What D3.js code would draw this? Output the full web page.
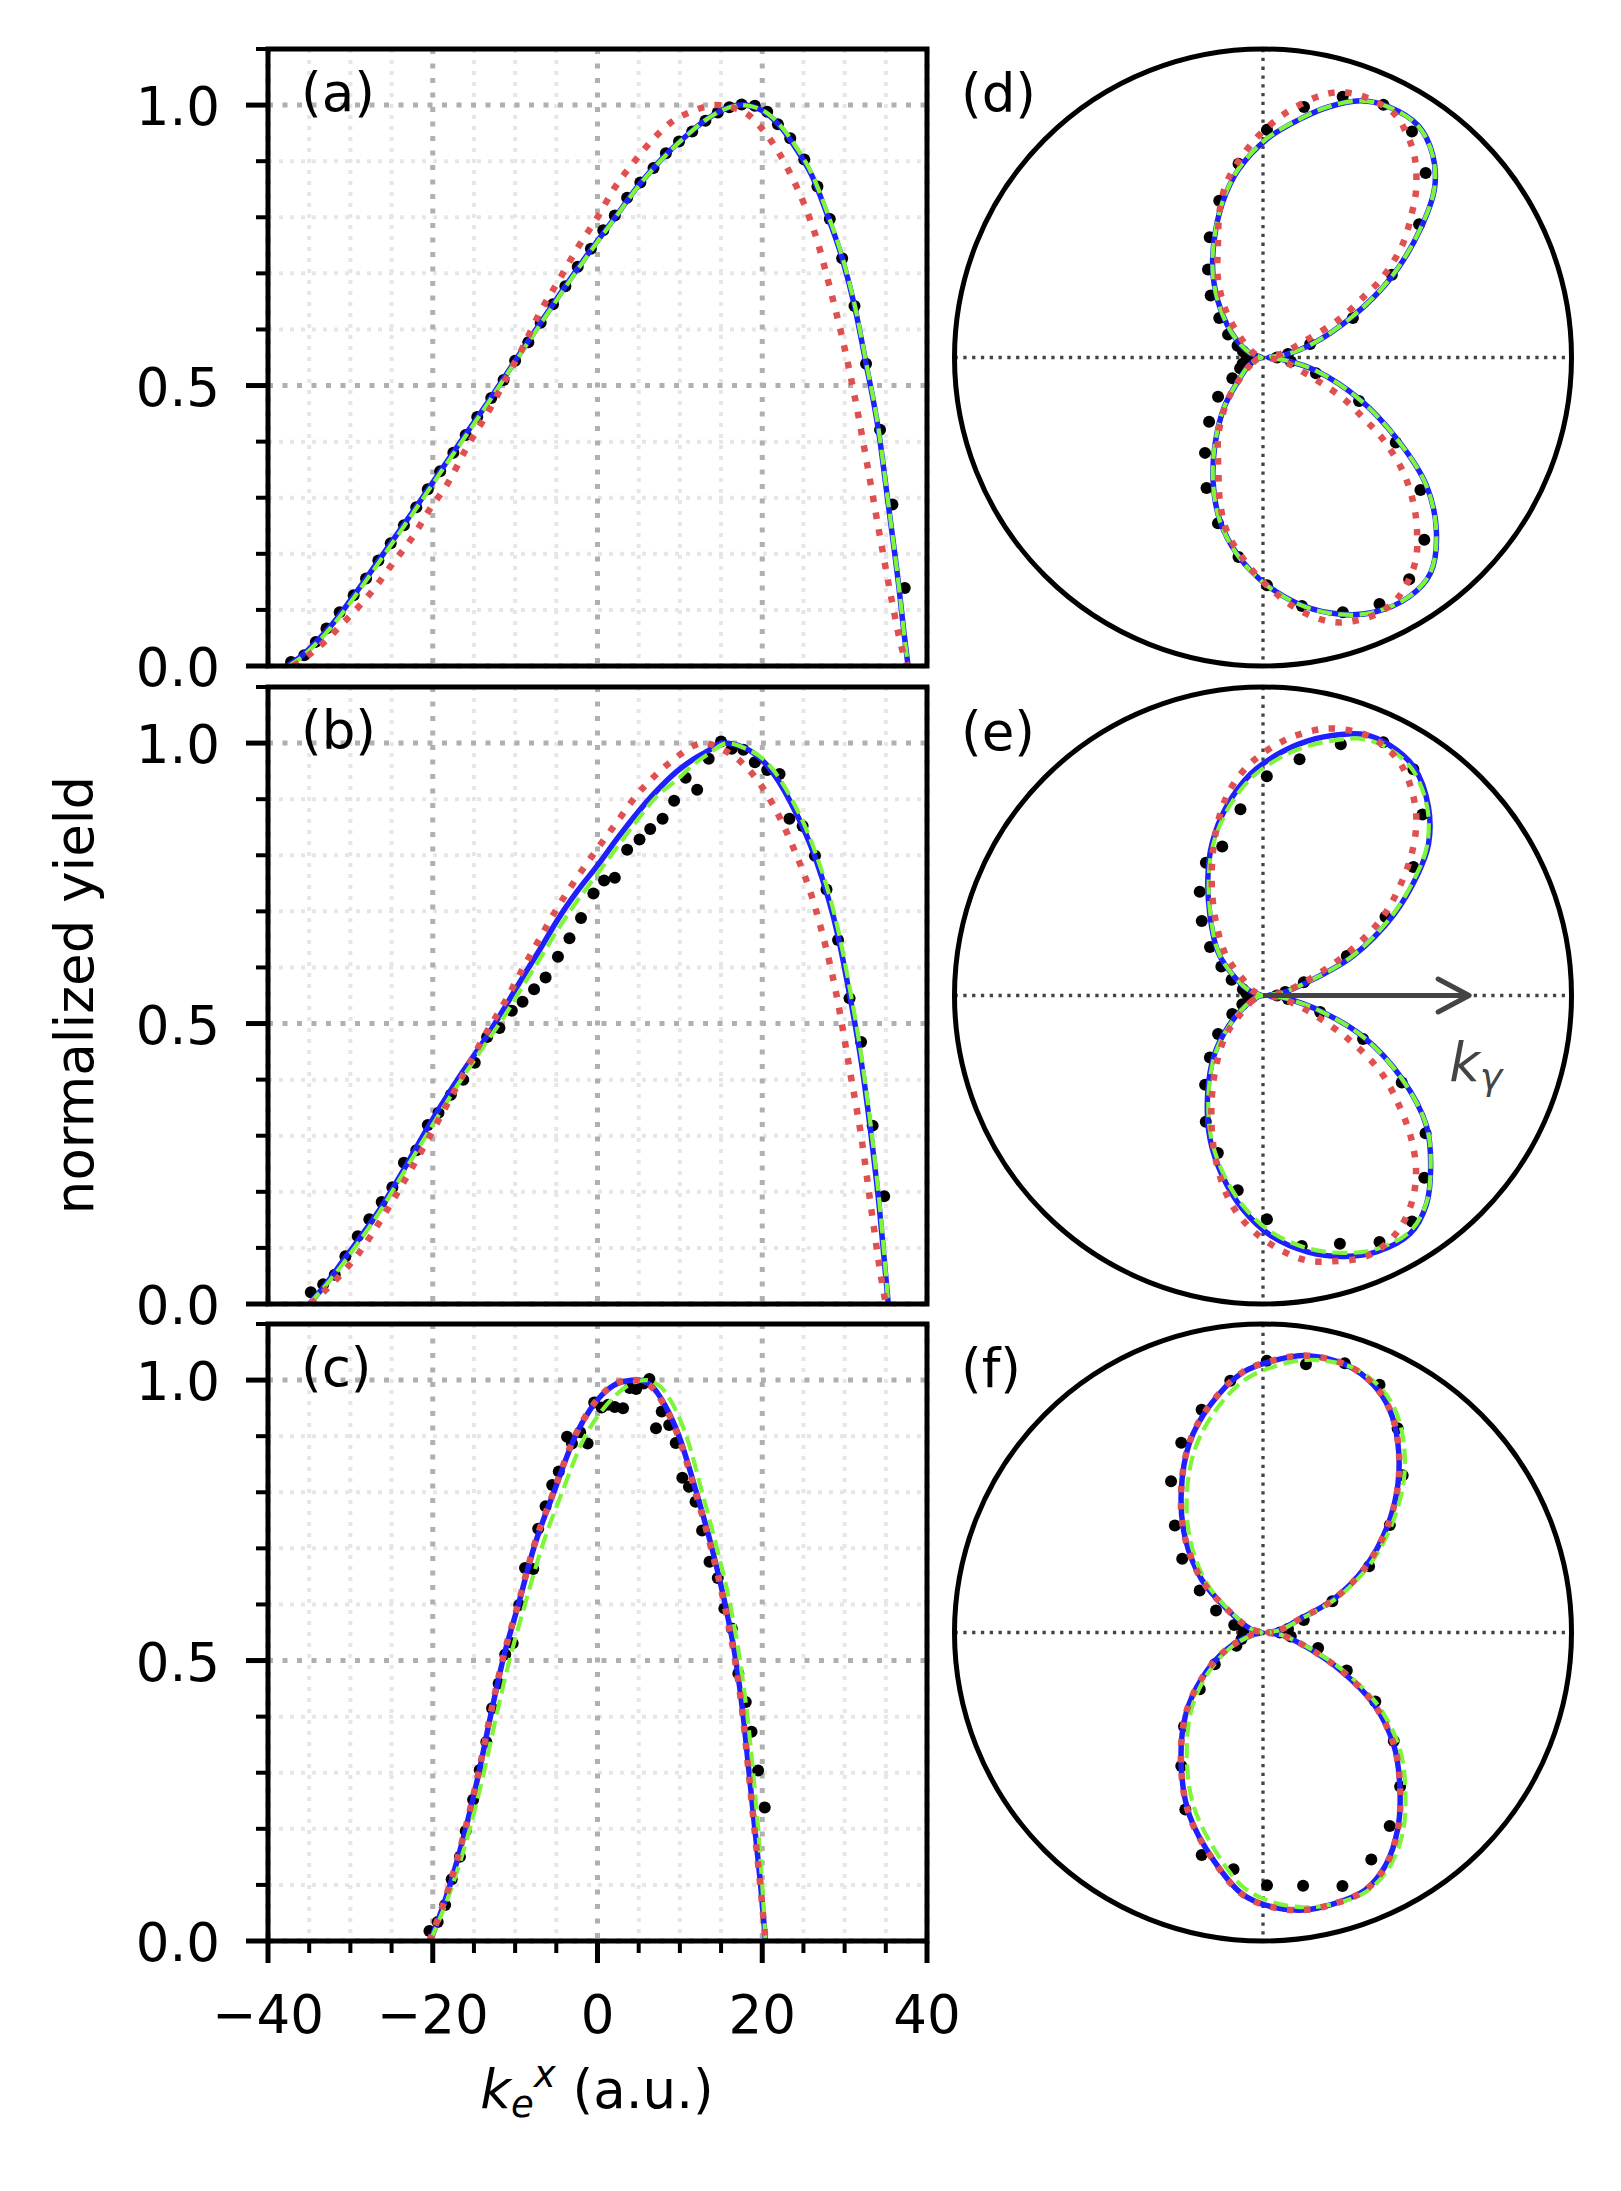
<!DOCTYPE html>
<html><head><meta charset="utf-8">
<script src="https://cdn.jsdelivr.net/npm/d3@7"></script>
<style>body{margin:0;background:#fff}svg{display:block}</style>
</head><body>
<script>
// ---------------- DATA ----------------
const xTicks = [-40,-20,0,20,40];
const xTickLabels = ["\u221240","\u221220","0","20","40"];
const yTicks = [0,0.5,1.0];
const yTickLabels = ["0.0","0.5","1.0"];
const panelLabels = ["(a)","(b)","(c)","(d)","(e)","(f)"];

// panel (a)
const aDotsX = [-37.2,-35.6,-34.2,-32.9,-31.3,-29.6,-28.1,-26.6,-25.1,-23.5,-22.0,-20.6,-19.1,-17.5,-16.0,-14.6,-12.9,-11.4,-10.0,-8.4,-6.9,-5.4,-3.9,-2.4,-0.8,0.7,2.1,3.6,5.2,6.8,8.3,9.9,11.5,13.1,14.6,16.0,17.5,19.1,20.6,21.9,23.4,25.1,26.7,28.2,29.7,31.2,32.6,34.3,35.8,37.3];
const aDotsY = [0.007,0.019,0.043,0.067,0.096,0.126,0.156,0.188,0.219,0.251,0.283,0.315,0.347,0.380,0.412,0.444,0.478,0.510,0.544,0.577,0.612,0.645,0.677,0.712,0.744,0.777,0.803,0.835,0.862,0.888,0.914,0.935,0.953,0.972,0.987,0.996,1.001,0.999,0.988,0.966,0.941,0.903,0.855,0.797,0.727,0.642,0.539,0.421,0.288,0.139];
const aBlue = [[-37.7,0],[-36,0.017],[-34,0.045],[-32,0.078],[-30,0.117],[-28,0.158],[-25,0.221],[-22,0.284],[-19,0.349],[-16,0.413],[-13,0.477],[-10,0.544],[-7,0.61],[-4,0.675],[-1,0.738],[2,0.797],[5,0.857],[8,0.907],[11,0.948],[13,0.972],[15,0.99],[17.5,1.0],[20,0.99],[22,0.965],[24,0.925],[26,0.875],[28,0.80],[29.7,0.727],[31.2,0.642],[32.6,0.539],[34.1,0.421],[35.3,0.288],[36.6,0.139],[37.2,0.06],[37.7,0]];
const aGreen = [[-37.5,0],[-36,0.015],[-34,0.042],[-32,0.075],[-30,0.113],[-28,0.154],[-25,0.217],[-22,0.281],[-19,0.346],[-16,0.41],[-13,0.475],[-10,0.542],[-7,0.608],[-4,0.673],[-1,0.736],[2,0.796],[5,0.856],[8,0.906],[11,0.948],[13,0.972],[15,0.99],[17.5,1.0],[20,0.991],[22,0.967],[24,0.928],[26,0.878],[28,0.804],[29.7,0.73],[31.2,0.645],[32.6,0.542],[34.1,0.424],[35.3,0.29],[36.6,0.14],[37.2,0.06],[37.7,0]];
const aRed = [[-36.9,0],[-35,0.02],[-33,0.045],[-31,0.075],[-29.6,0.096],[-27,0.14],[-25.1,0.178],[-22,0.24],[-20.6,0.274],[-18,0.33],[-16,0.386],[-13,0.46],[-11.4,0.504],[-9,0.57],[-7,0.63],[-4.6,0.69],[-2.4,0.746],[0,0.8],[2.1,0.853],[4.5,0.9],[6.8,0.94],[9,0.97],[11.5,0.989],[14.4,1.0],[17.5,0.99],[20.6,0.946],[23.5,0.875],[25.1,0.823],[26.7,0.757],[28.2,0.675],[29.7,0.586],[31.2,0.482],[32.6,0.371],[34.3,0.23],[35.8,0.111],[36.8,0.04],[37.6,0]];

// panel (b)
const bDotsX = [-34.8,-33.3,-31.9,-30.6,-29.1,-27.7,-26.2,-24.9,-23.5,-22.0,-20.6,-19.3,-17.8,-16.3,-14.9,-13.4,-11.9,-10.4,-9.1,-7.7,-6.3,-4.8,-3.4,-2.0,-0.5,0.8,2.1,3.6,5.1,6.4,7.9,9.3,10.7,12.1,13.5,15.0,16.3,17.7,19.1,20.6,22.1,23.3,24.9,26.4,27.8,29.2,30.6,32.0,33.4,34.8];
const bDotsY = [0.021,0.035,0.052,0.085,0.121,0.151,0.182,0.208,0.252,0.274,0.319,0.341,0.373,0.400,0.430,0.476,0.492,0.523,0.539,0.561,0.582,0.619,0.652,0.688,0.732,0.755,0.760,0.810,0.828,0.847,0.865,0.897,0.938,0.917,0.972,1.003,0.990,0.988,0.966,0.952,0.945,0.865,0.852,0.799,0.739,0.649,0.545,0.467,0.318,0.192];
const bBlue = [[-35,0],[-33,0.035],[-31,0.075],[-29,0.115],[-26.2,0.174],[-23.5,0.24],[-20.6,0.315],[-17,0.4],[-13.4,0.478],[-11,0.535],[-9.1,0.582],[-7,0.632],[-4.8,0.686],[-2.5,0.735],[0,0.782],[2.4,0.83],[4.8,0.875],[7.2,0.915],[9.6,0.949],[11.5,0.97],[13.4,0.986],[15.2,1.0],[17.6,0.993],[20.6,0.96],[23.5,0.893],[26.4,0.797],[29.2,0.656],[30.6,0.552],[32.0,0.434],[33.4,0.278],[34.2,0.174],[34.8,0.08],[35.3,0]];
const bGreen = [[-35,0],[-33,0.033],[-31,0.07],[-29,0.11],[-26.2,0.17],[-23.5,0.235],[-20.6,0.305],[-17,0.39],[-13.4,0.468],[-11,0.52],[-9.1,0.566],[-7,0.615],[-4.8,0.668],[-2.5,0.718],[0,0.767],[2.4,0.815],[4.8,0.862],[7.2,0.905],[9.6,0.934],[11.5,0.96],[13.4,0.98],[15.8,1.0],[18,0.99],[20.6,0.965],[23.5,0.902],[26.4,0.807],[29.2,0.668],[30.6,0.565],[32.0,0.445],[33.4,0.29],[34.2,0.185],[34.8,0.09],[35.3,0]];
const bRed = [[-34.8,0],[-33,0.025],[-31,0.055],[-29,0.09],[-26.2,0.152],[-23.5,0.218],[-20.6,0.293],[-17,0.39],[-13.4,0.486],[-11,0.545],[-9.1,0.597],[-7,0.652],[-4.8,0.708],[-2.5,0.76],[0,0.812],[2.4,0.86],[4.8,0.908],[7.2,0.945],[9.6,0.975],[11.8,0.996],[12.8,1.0],[15,0.99],[17.6,0.964],[20.6,0.908],[23.5,0.823],[26.4,0.708],[29.2,0.537],[30.6,0.419],[32.0,0.30],[33.4,0.152],[34.4,0.05],[35.0,0]];

// panel (c)
const cDotsX = [-20.4,-19.4,-18.5,-17.7,-16.7,-16.0,-15.1,-14.3,-13.5,-12.8,-12.0,-11.2,-10.3,-9.5,-8.8,-7.8,-7.2,-6.3,-5.5,-4.7,-3.7,-3.1,-2.1,-1.2,-0.4,0.5,1.3,2.1,3.1,3.9,4.7,5.6,6.3,7.1,7.8,8.7,9.5,10.3,11.1,11.9,12.7,13.6,14.6,15.4,16.3,17.1,18.0,18.7,19.5,20.3];
const cDotsY = [0.018,0.034,0.064,0.110,0.150,0.196,0.252,0.305,0.355,0.415,0.459,0.511,0.531,0.599,0.665,0.663,0.735,0.775,0.813,0.837,0.899,0.887,0.907,0.887,0.960,0.951,0.956,0.952,0.950,0.986,0.984,0.994,1.002,0.914,0.944,0.920,0.888,0.826,0.810,0.783,0.732,0.676,0.647,0.593,0.557,0.477,0.426,0.373,0.304,0.238];
const cBlue = [[-20.3,0],[-17.9,0.1],[-16,0.2],[-14.4,0.3],[-13,0.4],[-11.5,0.5],[-9.6,0.6],[-7.75,0.7],[-5.3,0.8],[-2.7,0.9],[-1,0.945],[1,0.98],[3,0.997],[4.8,1.0],[6.5,0.99],[8.2,0.955],[9.9,0.9],[12,0.8],[13.9,0.7],[15.5,0.6],[16.8,0.5],[17.7,0.4],[18.4,0.3],[19.1,0.2],[19.8,0.1],[20.4,0]];
const cGreen = [[-20.3,0],[-17.6,0.1],[-15.5,0.2],[-13.8,0.3],[-12.3,0.4],[-10.7,0.5],[-8.8,0.6],[-6.8,0.7],[-4.3,0.8],[-1.5,0.9],[0,0.935],[2,0.97],[4,0.993],[5.8,1.0],[7.5,0.99],[9.2,0.955],[10.8,0.9],[12.7,0.8],[14.5,0.7],[16.1,0.6],[17.3,0.5],[18.2,0.4],[18.9,0.3],[19.5,0.2],[20.0,0.1],[20.4,0]];
const cRed = [[-20.4,0],[-17.95,0.1],[-16.05,0.2],[-14.45,0.3],[-13.05,0.4],[-11.55,0.5],[-9.65,0.6],[-7.8,0.7],[-5.35,0.8],[-2.75,0.9],[-1,0.946],[1,0.981],[3,0.998],[4.7,1.0],[6.4,0.99],[8.1,0.955],[9.8,0.9],[11.9,0.8],[13.8,0.7],[15.4,0.6],[16.7,0.5],[17.65,0.4],[18.35,0.3],[19.05,0.2],[19.75,0.1],[20.4,0]];

// polar panels: [angle deg (ccw from +x), r]
const dDots = [[0,0.05],[8,0.09],[16.1,0.175],[23.7,0.35],[32.7,0.546],[40.5,0.732],[48.6,0.877],[56.6,0.965],[64.5,0.998],[73,0.972],[80.7,0.905],[89,0.812],[97.2,0.696],[105.6,0.58],[113.9,0.469],[122,0.37],[130.2,0.289],[138,0.21],[146.8,0.149],[155,0.1],[163,0.075],[172,0.06],[180,0.05],[-8,0.10],[-16.5,0.197],[-24.4,0.376],[-32.6,0.562],[-40.1,0.734],[-48.5,0.868],[-56.6,0.947],[-64.7,0.972],[-72.6,0.952],[-81.1,0.897],[-89,0.812],[-97,0.717],[-105.2,0.612],[-113.4,0.507],[-121.3,0.398],[-130,0.299],[-138.8,0.213],[-145.9,0.132],[-155,0.09],[-163,0.076],[-172,0.05]];
const dBlue = [[0,0.02],[7,0.08],[14.7,0.173],[24.7,0.353],[32.1,0.542],[39.2,0.724],[44.7,0.861],[50.1,0.943],[56.2,0.995],[63.4,1.0],[69.1,0.98],[75.4,0.923],[81.2,0.86],[88.9,0.78],[97.5,0.675],[104.9,0.567],[112.9,0.449],[121.1,0.345],[130.8,0.234],[144.2,0.126],[162,0.046],[180,0.005],[-165,0.02],[-150,0.06],[-136.9,0.119],[-128,0.225],[-118.9,0.354],[-111.9,0.477],[-104.7,0.603],[-97,0.714],[-89,0.812],[-80.7,0.898],[-73.2,0.956],[-66.7,0.99],[-58.7,1.0],[-52.1,0.973],[-45.1,0.876],[-38.1,0.741],[-31.5,0.564],[-23.3,0.373],[-14,0.195],[-7,0.08]];
const dGreen = [[0,0.02],[7,0.08],[14.7,0.172],[24.7,0.352],[32.1,0.54],[39.2,0.722],[44.7,0.86],[50.1,0.942],[56.2,0.994],[63.4,0.999],[69.1,0.98],[75.4,0.924],[81.2,0.861],[88.9,0.782],[97.5,0.677],[104.9,0.568],[112.9,0.45],[121.1,0.346],[130.8,0.235],[144.2,0.126],[162,0.046],[180,0.005],[-165,0.02],[-150,0.06],[-136.9,0.12],[-128,0.226],[-118.9,0.355],[-111.9,0.478],[-104.7,0.604],[-97,0.715],[-89,0.813],[-80.7,0.899],[-73.2,0.957],[-66.7,0.99],[-58.7,0.999],[-52.1,0.972],[-45.1,0.875],[-38.1,0.74],[-31.5,0.563],[-23.3,0.372],[-14,0.194],[-7,0.08]];
const dRed = [[0,0.02],[10,0.06],[22.3,0.174],[26.9,0.311],[31.3,0.426],[33.6,0.507],[38.8,0.636],[44.2,0.741],[47.9,0.815],[53.3,0.902],[58.5,0.961],[61.8,0.988],[65.8,0.996],[70.3,0.996],[74.5,0.981],[77.7,0.955],[81.7,0.911],[86.1,0.858],[92.7,0.769],[101.1,0.647],[106.1,0.553],[112,0.429],[119.8,0.323],[128.8,0.209],[136.9,0.119],[150,0.05],[165,0.02],[180,0.005],[-165,0.02],[-150,0.05],[-137,0.115],[-129,0.205],[-120,0.318],[-112,0.425],[-106,0.55],[-101,0.645],[-92.5,0.765],[-86,0.855],[-82,0.908],[-78,0.952],[-74.5,0.98],[-70.5,0.995],[-66,1.0],[-62,0.99],[-58.5,0.965],[-53,0.905],[-48,0.82],[-44,0.745],[-39,0.64],[-34,0.51],[-31.5,0.43],[-27,0.32],[-21,0.17],[-10,0.07]];

const eDots = [[0,0.05],[9,0.08],[18,0.153],[25.2,0.33],[32.7,0.519],[40.5,0.705],[48.6,0.86],[56.4,0.969],[64.6,1.0],[72.8,0.938],[81.2,0.852],[89,0.782],[96.9,0.669],[105.3,0.551],[113.3,0.515],[121.4,0.433],[129.4,0.344],[137.6,0.256],[145.1,0.181],[153.5,0.125],[163,0.075],[172,0.06],[180,0.05],[-8,0.09],[-16.2,0.212],[-23.5,0.389],[-32.1,0.584],[-40.3,0.76],[-48.5,0.868],[-56.6,0.965],[-64.7,0.972],[-72.8,0.927],[-81.2,0.904],[-89,0.798],[-97.4,0.7],[-106,0.584],[-114.4,0.494],[-123,0.379],[-130.6,0.291],[-139.4,0.211],[-148.8,0.128],[-157,0.08],[-168,0.05]];
const eBlue = [[0,0.02],[8,0.07],[16.8,0.168],[23.7,0.35],[31.7,0.548],[38.2,0.704],[42.4,0.799],[48.7,0.894],[56.4,0.975],[63.2,1.0],[68.6,0.999],[73.4,0.971],[80,0.922],[86.1,0.866],[93.2,0.791],[101,0.685],[108.7,0.569],[115,0.465],[123.3,0.345],[136,0.223],[147,0.121],[162,0.046],[180,0.005],[-165,0.02],[-150,0.07],[-138.2,0.166],[-129.2,0.276],[-119.6,0.399],[-110.4,0.543],[-102.7,0.659],[-95.5,0.764],[-88.1,0.857],[-80,0.929],[-72.6,0.975],[-66,1.0],[-58.3,0.998],[-52,0.946],[-45.7,0.856],[-38.6,0.746],[-30.8,0.576],[-22.4,0.387],[-15.1,0.211],[-7,0.08]];
const eGreen = [[0,0.02],[8,0.07],[16.8,0.166],[23.7,0.345],[31.7,0.54],[38.2,0.696],[42.4,0.792],[48.7,0.888],[56.4,0.965],[63.2,0.988],[68.6,0.982],[73.4,0.952],[80,0.902],[86.1,0.848],[93.2,0.775],[101,0.672],[108.7,0.56],[115,0.458],[123.3,0.34],[136,0.22],[147,0.12],[162,0.046],[180,0.005],[-165,0.02],[-150,0.068],[-138.2,0.162],[-129.2,0.27],[-119.6,0.392],[-110.4,0.534],[-102.7,0.648],[-95.5,0.752],[-88.1,0.843],[-80,0.915],[-72.6,0.962],[-66,0.99],[-58.3,0.992],[-52,0.944],[-45.7,0.856],[-38.6,0.746],[-30.8,0.574],[-22.4,0.385],[-15.1,0.21],[-7,0.08]];
const eRed = [[0,0.02],[9,0.07],[18.9,0.17],[26.9,0.343],[32.9,0.503],[38.7,0.626],[43.8,0.736],[48.9,0.832],[54,0.903],[58.9,0.957],[63.7,0.988],[68.6,0.999],[75.4,0.984],[80.3,0.954],[85.4,0.911],[92,0.842],[97.6,0.767],[102.2,0.687],[108,0.567],[115,0.432],[122.9,0.308],[132.9,0.192],[140.7,0.094],[155,0.04],[170,0.01],[-170,0.01],[-155,0.04],[-141,0.1],[-133,0.195],[-123,0.31],[-115,0.435],[-108,0.57],[-102,0.69],[-97.5,0.77],[-92,0.845],[-85.5,0.915],[-80.5,0.958],[-75.3,0.98],[-69,1.0],[-64,0.99],[-59,0.958],[-54,0.905],[-49,0.832],[-44,0.735],[-39,0.625],[-33,0.5],[-27,0.34],[-19,0.17],[-9,0.07]];

const fDots = [[0,0.06],[8,0.09],[16.9,0.152],[24.2,0.271],[32,0.446],[40.3,0.593],[48.4,0.75],[56.6,0.872],[64.8,0.976],[73.1,1.003],[80.9,0.969],[89.2,0.969],[97.4,0.905],[105.4,0.824],[113.3,0.737],[121.3,0.631],[129.5,0.494],[137.6,0.39],[146.4,0.271],[154.9,0.185],[165.5,0.106],[174,0.07],[-174,0.07],[-163,0.08],[-153.4,0.106],[-146.6,0.206],[-138.1,0.303],[-130,0.438],[-121.5,0.558],[-113.7,0.689],[-105.4,0.823],[-97.1,0.851],[-89.1,0.901],[-81,0.914],[-72.6,0.947],[-64.5,0.897],[-56.8,0.825],[-48.3,0.735],[-39.7,0.606],[-31.6,0.47],[-24.4,0.328],[-15.6,0.204],[-8,0.1]];
const fBlue = [[0,0.02],[8,0.06],[20.3,0.14],[25,0.273],[32.6,0.433],[40.6,0.585],[47.7,0.715],[54.6,0.83],[60.4,0.914],[66,0.967],[72.1,0.998],[80.8,1.0],[87.4,0.972],[94.5,0.93],[103.2,0.831],[111.2,0.725],[120.3,0.578],[129.5,0.436],[139.2,0.289],[146.8,0.157],[164.6,0.045],[180,0.005],[-168,0.04],[-154.8,0.145],[-143,0.274],[-132.9,0.407],[-121.5,0.558],[-111.9,0.703],[-102.1,0.833],[-94.5,0.936],[-88.3,0.978],[-81.7,1.0],[-75.8,1.0],[-68.4,0.988],[-62.2,0.938],[-55.4,0.847],[-48.4,0.735],[-40.7,0.615],[-32.8,0.469],[-26,0.308],[-18.9,0.17],[-8,0.07]];
const fGreen = [[0,0.02],[8,0.06],[20,0.15],[25,0.29],[32.6,0.455],[40.6,0.612],[47.7,0.748],[54.6,0.86],[60.4,0.935],[66,0.978],[72.1,0.998],[80.8,0.985],[87.4,0.95],[94.5,0.9],[103.2,0.795],[111.2,0.685],[120.3,0.54],[129.5,0.4],[139.2,0.26],[146.8,0.14],[164.6,0.04],[180,0.005],[-168,0.035],[-154.8,0.13],[-143,0.25],[-132.9,0.375],[-121.5,0.52],[-111.9,0.665],[-102.1,0.8],[-94.5,0.91],[-88.3,0.96],[-81.7,0.99],[-75.8,1.0],[-68.4,0.995],[-62.2,0.955],[-55.4,0.875],[-48.4,0.765],[-40.7,0.645],[-32.8,0.495],[-26,0.33],[-18.9,0.18],[-8,0.07]];
const fRed = [[0,0.02],[8,0.06],[20.3,0.141],[25,0.274],[32.6,0.434],[40.6,0.586],[47.7,0.716],[54.6,0.831],[60.4,0.915],[66,0.968],[72.1,0.998],[80.8,1.0],[87.4,0.973],[94.5,0.931],[103.2,0.832],[111.2,0.726],[120.3,0.579],[129.5,0.437],[139.2,0.29],[146.8,0.158],[164.6,0.045],[180,0.005],[-168,0.04],[-154.8,0.146],[-143,0.275],[-132.9,0.408],[-121.5,0.559],[-111.9,0.704],[-102.1,0.834],[-94.5,0.937],[-88.3,0.979],[-81.7,1.0],[-75.8,1.0],[-68.4,0.989],[-62.2,0.939],[-55.4,0.848],[-48.4,0.736],[-40.7,0.616],[-32.8,0.47],[-26,0.309],[-18.9,0.171],[-8,0.07]];
const arrowLen = 0.735;

// ---------------- STYLE / LAYOUT ----------------
const FONT = '"DejaVu Sans", sans-serif';
const FS = 53;
const C_BLUE = '#2020ff', C_GREEN = '#7ff53a', C_RED = '#e05050';
const W = 1621, H = 2191;
const X0 = 268, X1 = 927, PH = 617;
const tops = [49, 687, 1324];
const PCX = 1263, PR = 308.5;

const svg = d3.select('body').append('svg').attr('width', W).attr('height', H);
svg.append('rect').attr('width', W).attr('height', H).attr('fill', '#fff');
const defs = svg.append('defs');

const x = d3.scaleLinear().domain([-40, 40]).range([X0, X1]);
const xMinor = d3.range(-40, 40.01, 5).filter(v => v % 20 !== 0);
const yMinor = d3.range(1, 12).map(v => v / 10).filter(v => Math.abs(v - 0.5) > 1e-6 && Math.abs(v - 1) > 1e-6);

function styleLine(sel, kind) {
  if (kind === 'blue') sel.attr('stroke', C_BLUE).attr('stroke-width', 5.5);
  if (kind === 'green') sel.attr('stroke', C_GREEN).attr('stroke-width', 4.2).attr('stroke-dasharray', '15 6.5');
  if (kind === 'red') sel.attr('stroke', C_RED).attr('stroke-width', 6.5).attr('stroke-dasharray', '6.5 10.5');
  return sel.attr('fill', 'none');
}

const linPanels = [
  {dx: aDotsX, dy: aDotsY, blue: aBlue, green: aGreen, red: aRed},
  {dx: bDotsX, dy: bDotsY, blue: bBlue, green: bGreen, red: bRed},
  {dx: cDotsX, dy: cDotsY, blue: cBlue, green: cGreen, red: cRed}
];

linPanels.forEach((p, i) => {
  const top = tops[i], bot = top + PH;
  const y = d3.scaleLinear().domain([0, 1.1]).range([bot, top]);
  const g = svg.append('g');
  const cid = 'clipL' + i;
  defs.append('clipPath').attr('id', cid).append('rect')
    .attr('x', X0).attr('y', top).attr('width', X1 - X0).attr('height', PH);

  const grid = g.append('g');
  xMinor.forEach(v => grid.append('line').attr('x1', x(v)).attr('x2', x(v)).attr('y1', top).attr('y2', bot)
    .attr('stroke', '#e6e6e6').attr('stroke-width', 4).attr('stroke-dasharray', '4 7'));
  yMinor.forEach(v => grid.append('line').attr('x1', X0).attr('x2', X1).attr('y1', y(v)).attr('y2', y(v))
    .attr('stroke', '#e6e6e6').attr('stroke-width', 4).attr('stroke-dasharray', '4 7'));
  xTicks.forEach(v => grid.append('line').attr('x1', x(v)).attr('x2', x(v)).attr('y1', top).attr('y2', bot)
    .attr('stroke', '#b0b0b0').attr('stroke-width', 5).attr('stroke-dasharray', '5 9.5'));
  yTicks.forEach(v => grid.append('line').attr('x1', X0).attr('x2', X1).attr('y1', y(v)).attr('y2', y(v))
    .attr('stroke', '#b0b0b0').attr('stroke-width', 5).attr('stroke-dasharray', '5 9.5'));

  const data = g.append('g').attr('clip-path', `url(#${cid})`);
  data.selectAll('circle').data(d3.zip(p.dx, p.dy)).join('circle')
    .attr('cx', d => x(d[0])).attr('cy', d => y(d[1])).attr('r', 6).attr('fill', '#000');
  const line = d3.line().x(d => x(d[0])).y(d => y(d[1])).curve(d3.curveMonotoneX);
  styleLine(data.append('path').attr('d', line(p.blue)), 'blue');
  styleLine(data.append('path').attr('d', line(p.green)), 'green');
  styleLine(data.append('path').attr('d', line(p.red)), 'red');

  yMinor.forEach(v => g.append('line').attr('x1', X0 - 12).attr('x2', X0).attr('y1', y(v)).attr('y2', y(v))
    .attr('stroke', '#000').attr('stroke-width', 4));
  yTicks.forEach((v, k) => {
    g.append('line').attr('x1', X0 - 22).attr('x2', X0).attr('y1', y(v)).attr('y2', y(v))
      .attr('stroke', '#000').attr('stroke-width', 5);
    g.append('text').attr('x', 220).attr('y', y(v) + 20).attr('text-anchor', 'end')
      .attr('font-family', FONT).attr('font-size', FS).text(yTickLabels[k]);
  });
  if (i === 2) {
    xMinor.forEach(v => g.append('line').attr('x1', x(v)).attr('x2', x(v)).attr('y1', bot).attr('y2', bot + 12)
      .attr('stroke', '#000').attr('stroke-width', 4));
    xTicks.forEach((v, k) => {
      g.append('line').attr('x1', x(v)).attr('x2', x(v)).attr('y1', bot).attr('y2', bot + 22)
        .attr('stroke', '#000').attr('stroke-width', 5);
      g.append('text').attr('x', x(v)).attr('y', 2033).attr('text-anchor', 'middle')
        .attr('font-family', FONT).attr('font-size', FS).text(xTickLabels[k]);
    });
  }
  g.append('rect').attr('x', X0).attr('y', top).attr('width', X1 - X0).attr('height', PH)
    .attr('fill', 'none').attr('stroke', '#000').attr('stroke-width', 5);
  g.append('text').attr('x', 301).attr('y', top + 62).attr('font-family', FONT).attr('font-size', FS)
    .text(panelLabels[i]);
});

svg.append('text').attr('transform', 'translate(93,995) rotate(-90)').attr('text-anchor', 'middle')
  .attr('font-family', FONT).attr('font-size', FS).text('normalized yield');
const xl = svg.append('text').attr('x', 597).attr('y', 2108).attr('text-anchor', 'middle')
  .attr('font-family', FONT).attr('font-size', FS);
xl.append('tspan').attr('font-style', 'italic').text('k');
xl.append('tspan').attr('font-style', 'italic').attr('font-size', 37).attr('dy', 9).text('e');
xl.append('tspan').attr('font-style', 'italic').attr('font-size', 37).attr('dy', -30).text('x');
xl.append('tspan').attr('dy', 21).text('\u00a0(a.u.)');

const polPanels = [
  {dots: dDots, blue: dBlue, green: dGreen, red: dRed},
  {dots: eDots, blue: eBlue, green: eGreen, red: eRed},
  {dots: fDots, blue: fBlue, green: fGreen, red: fRed}
];
polPanels.forEach((p, i) => {
  const top = tops[i];
  const cy = top + PH / 2;
  const r = d3.scaleLinear().domain([0, 1.1]).range([0, PR]);
  const xy = d => [PCX + r(d[1]) * Math.cos(d[0] * Math.PI / 180), cy - r(d[1]) * Math.sin(d[0] * Math.PI / 180)];
  const g = svg.append('g');
  const cid = 'clipP' + i;
  defs.append('clipPath').attr('id', cid).append('circle').attr('cx', PCX).attr('cy', cy).attr('r', PR);
  g.append('line').attr('x1', PCX - PR).attr('x2', PCX + PR).attr('y1', cy).attr('y2', cy)
    .attr('stroke', '#444').attr('stroke-width', 3.3).attr('stroke-dasharray', '3.3 5.5');
  g.append('line').attr('x1', PCX).attr('x2', PCX).attr('y1', cy - PR).attr('y2', cy + PR)
    .attr('stroke', '#444').attr('stroke-width', 3.3).attr('stroke-dasharray', '3.3 5.5');
  const data = g.append('g').attr('clip-path', `url(#${cid})`);
  data.selectAll('circle').data(p.dots).join('circle')
    .attr('cx', d => xy(d)[0]).attr('cy', d => xy(d)[1]).attr('r', 6).attr('fill', '#000');
  const closed = d3.line().curve(d3.curveCatmullRomClosed.alpha(0.5));
  const path = arr => closed(arr.slice().sort((a, b) => a[0] - b[0]).map(xy));
  styleLine(data.append('path').attr('d', path(p.blue)), 'blue');
  styleLine(data.append('path').attr('d', path(p.green)), 'green');
  styleLine(data.append('path').attr('d', path(p.red)), 'red');
  if (i === 1) {
    const tip = xy([0, arrowLen]);
    g.append('line').attr('x1', PCX).attr('y1', cy).attr('x2', tip[0]).attr('y2', tip[1])
      .attr('stroke', '#444').attr('stroke-width', 5);
    g.append('path').attr('d', `M${tip[0] - 31},${tip[1] - 16.5}L${tip[0]},${tip[1]}L${tip[0] - 31},${tip[1] + 16.5}`)
      .attr('fill', 'none').attr('stroke', '#444').attr('stroke-width', 5).attr('stroke-linecap', 'round').attr('stroke-linejoin', 'round');
    const kt = g.append('text').attr('x', tip[0] - 20).attr('y', cy + 85).attr('font-family', FONT)
      .attr('font-size', FS).attr('fill', '#444');
    kt.append('tspan').attr('font-style', 'italic').text('k');
    kt.append('tspan').attr('font-style', 'italic').attr('font-size', 38).attr('dy', 8).text('\u03b3');
  }
  g.append('circle').attr('cx', PCX).attr('cy', cy).attr('r', PR).attr('fill', 'none')
    .attr('stroke', '#000').attr('stroke-width', 5);
  g.append('text').attr('x', 961).attr('y', top + 63).attr('font-family', FONT).attr('font-size', FS)
    .text(panelLabels[i + 3]);
});
</script>
</body></html>
